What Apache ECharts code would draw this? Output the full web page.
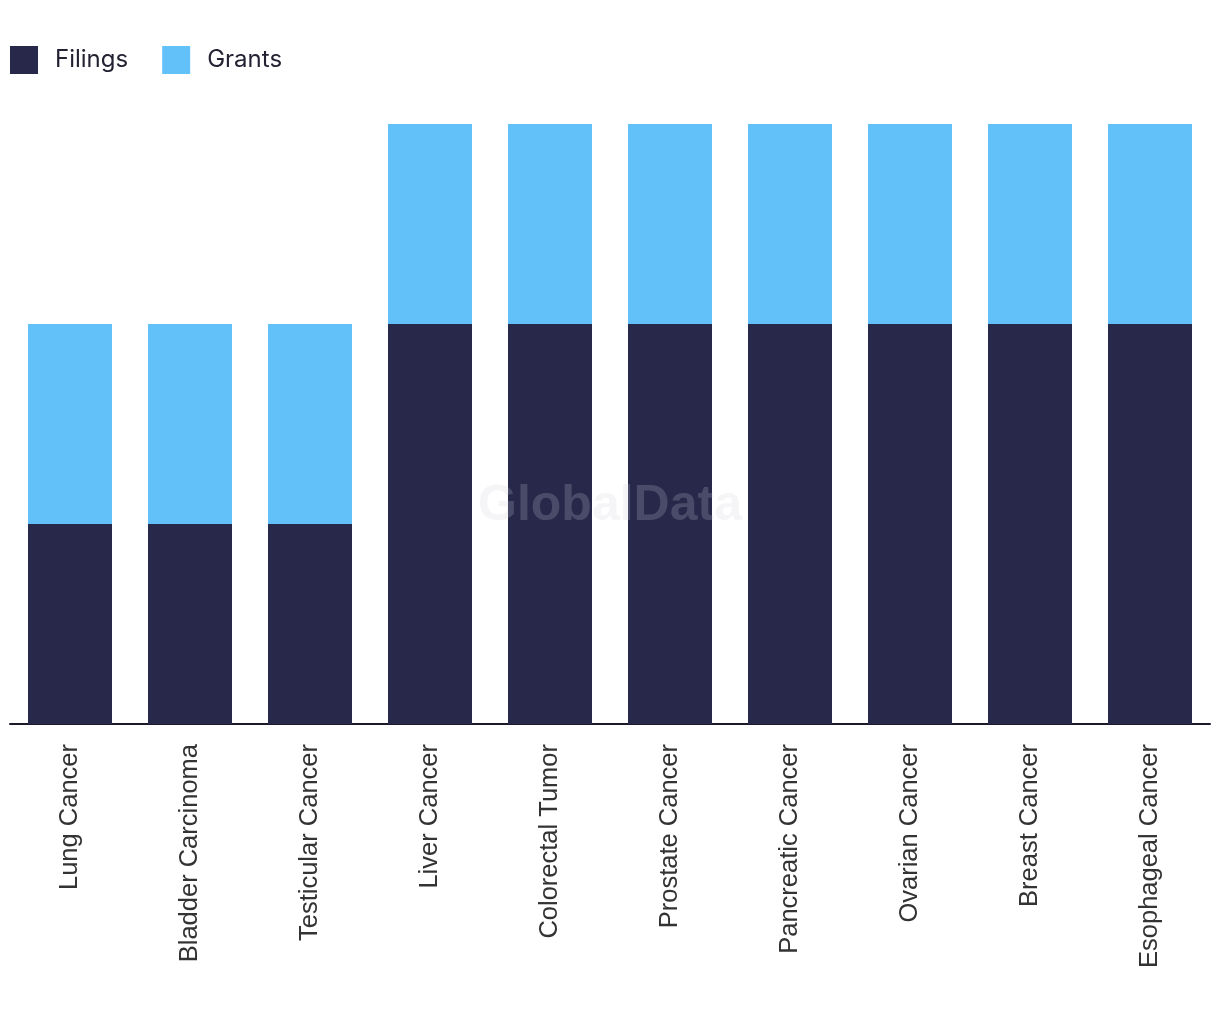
<!DOCTYPE html>
<html>
<head>
<meta charset="utf-8">
<script src="https://cdn.jsdelivr.net/npm/echarts@6/dist/echarts.min.js"></script>
<style>html,body{margin:0;padding:0;background:#fff}#c{width:1220px;height:1014px}</style>
</head>
<body>
<div id="c"></div>
<script>
const categories = ["Lung Cancer","Bladder Carcinoma","Testicular Cancer","Liver Cancer","Colorectal Tumor","Prostate Cancer","Pancreatic Cancer","Ovarian Cancer","Breast Cancer","Esophageal Cancer"];
const filings = [1,1,1,2,2,2,2,2,2,2];
const grants = [1,1,1,1,1,1,1,1,1,1];

const chart = echarts.init(document.getElementById('c'));
chart.setOption({
  animation: false,
  legend: {
    left: 10, top: 46, padding: 0, itemWidth: 28, itemHeight: 28, itemGap: 34,
    icon: 'rect',
    textStyle: { fontFamily: 'Inter', fontSize: 24, color: '#222233', padding: [0,0,0,12] },
    data: ['Filings','Grants']
  },
  grid: { left: 10, right: 10, top: 124, bottom: 290, containLabel: false },
  xAxis: {
    type: 'category', data: categories,
    axisLine: { lineStyle: { color: '#1a1a2a', width: 2 } },
    axisTick: { show: false },
    axisLabel: { rotate: 90, margin: 20, fontFamily: 'Liberation Sans', fontSize: 25.5, color: '#333333', interval: 0 }
  },
  yAxis: { type: 'value', min: 0, max: 3, show: false, splitLine: { show: false } },
  graphic: [{
    type: 'text', left: 'center', top: 481, z: 100,
    style: { text: 'GlobalData', font: 'bold 50px "Liberation Sans"', fill: 'rgba(207,207,215,0.21)' }
  }],
  series: [
    { name: 'Filings', type: 'bar', stack: 't', data: filings, barCategoryGap: '30%', itemStyle: { color: '#27284a' } },
    { name: 'Grants', type: 'bar', stack: 't', data: grants, barCategoryGap: '30%', itemStyle: { color: '#62c1f9' } }
  ]
});
</script>
</body>
</html>
